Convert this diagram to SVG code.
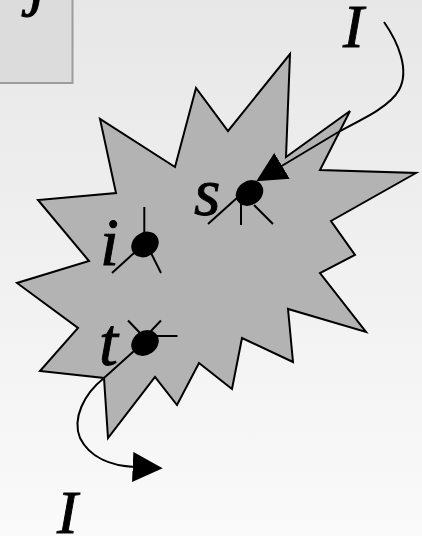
<svg xmlns="http://www.w3.org/2000/svg" width="422" height="536" viewBox="0 0 422 536">
  <defs>
    <linearGradient id="bg" x1="0" y1="0" x2="0" y2="1">
      <stop offset="0" stop-color="#e7e7e7"/>
      <stop offset="1" stop-color="#fafafa"/>
    </linearGradient>
    <marker id="arrow" markerUnits="userSpaceOnUse" markerWidth="30" markerHeight="30" viewBox="0 0 26 26" refX="2" refY="13" orient="auto">
      <path d="M0,0 L26,13 L0,26 Z" fill="#000"/>
    </marker>
    <style>
      .lbl { font-family: "Liberation Serif", "Times New Roman", serif; font-style: italic; font-size: 68px; fill: #000; stroke: #000; stroke-width: 0.9; }
      .cap { font-size: 62px; }
      .tick { stroke: #000; stroke-width: 2; fill: none; }
      .dot { fill: #000; }
      .conn { stroke: #000; stroke-width: 2; fill: none; }
    </style>
  </defs>
  <rect x="0" y="0" width="422" height="536" fill="url(#bg)"/>

  <g id="box">
    <rect x="-5" y="-5" width="77.5" height="88" fill="#dcdcdc" stroke="#9c9c9c" stroke-width="2"/>
    <text class="lbl" x="29" y="3">j</text>
  </g>

  <g id="region">
    <polygon points="290,54 286,157 350,111 320,170 416,173 331,221 355,255 320,273 366,332 288,309 293,362 242,338 232,389 199,363 177,405 155,377 108,438 104,378 40,371 78,328 17,283 89,261 38,200 116,193 100,119 175,167 196,88 228,131" fill="#b3b3b3" stroke="#000" stroke-width="2" stroke-linejoin="miter"/>
  </g>

  <g id="node-s">
    <line class="tick" x1="208" y1="224" x2="238" y2="197"/>
    <line class="tick" x1="241" y1="204" x2="241" y2="225"/>
    <line class="tick" x1="254" y1="205" x2="273" y2="224"/>
    <ellipse class="dot" cx="249.5" cy="193" rx="14.5" ry="12" transform="rotate(-35 249.5 193)"/>
    <text class="lbl" x="194" y="215">s</text>
  </g>

  <g id="node-i">
    <line class="tick" x1="144.3" y1="207" x2="144.3" y2="236"/>
    <line class="tick" x1="112" y1="273" x2="134" y2="253"/>
    <line class="tick" x1="151" y1="253" x2="161" y2="273"/>
    <ellipse class="dot" cx="145" cy="244.5" rx="14.5" ry="12" transform="rotate(-35 145 244.5)"/>
    <text class="lbl" x="100" y="265">i</text>
  </g>

  <g id="node-t">
    <line class="tick" x1="128" y1="320.5" x2="141" y2="334"/>
    <line class="tick" x1="161" y1="320.5" x2="150" y2="332"/>
    <line class="tick" x1="155" y1="336" x2="177.5" y2="336"/>
    <ellipse class="dot" cx="145" cy="343" rx="14.5" ry="12" transform="rotate(-35 145 343)"/>
    <text class="lbl" x="99" y="365">t</text>
  </g>

  <g id="connectors">
    <path class="conn" d="M384,22 C398,42 410,70 399,90 C390,106 365,118 340,131 L280,167" marker-end="url(#arrow)"/>
    <path class="conn" d="M134,351 L104,378 C84,394 72,418 80,438 C90,458 112,466 135,467" marker-end="url(#arrow)"/>
  </g>

  <text class="lbl cap" x="343" y="47">I</text>
  <text class="lbl cap" x="57" y="533">I</text>
</svg>
